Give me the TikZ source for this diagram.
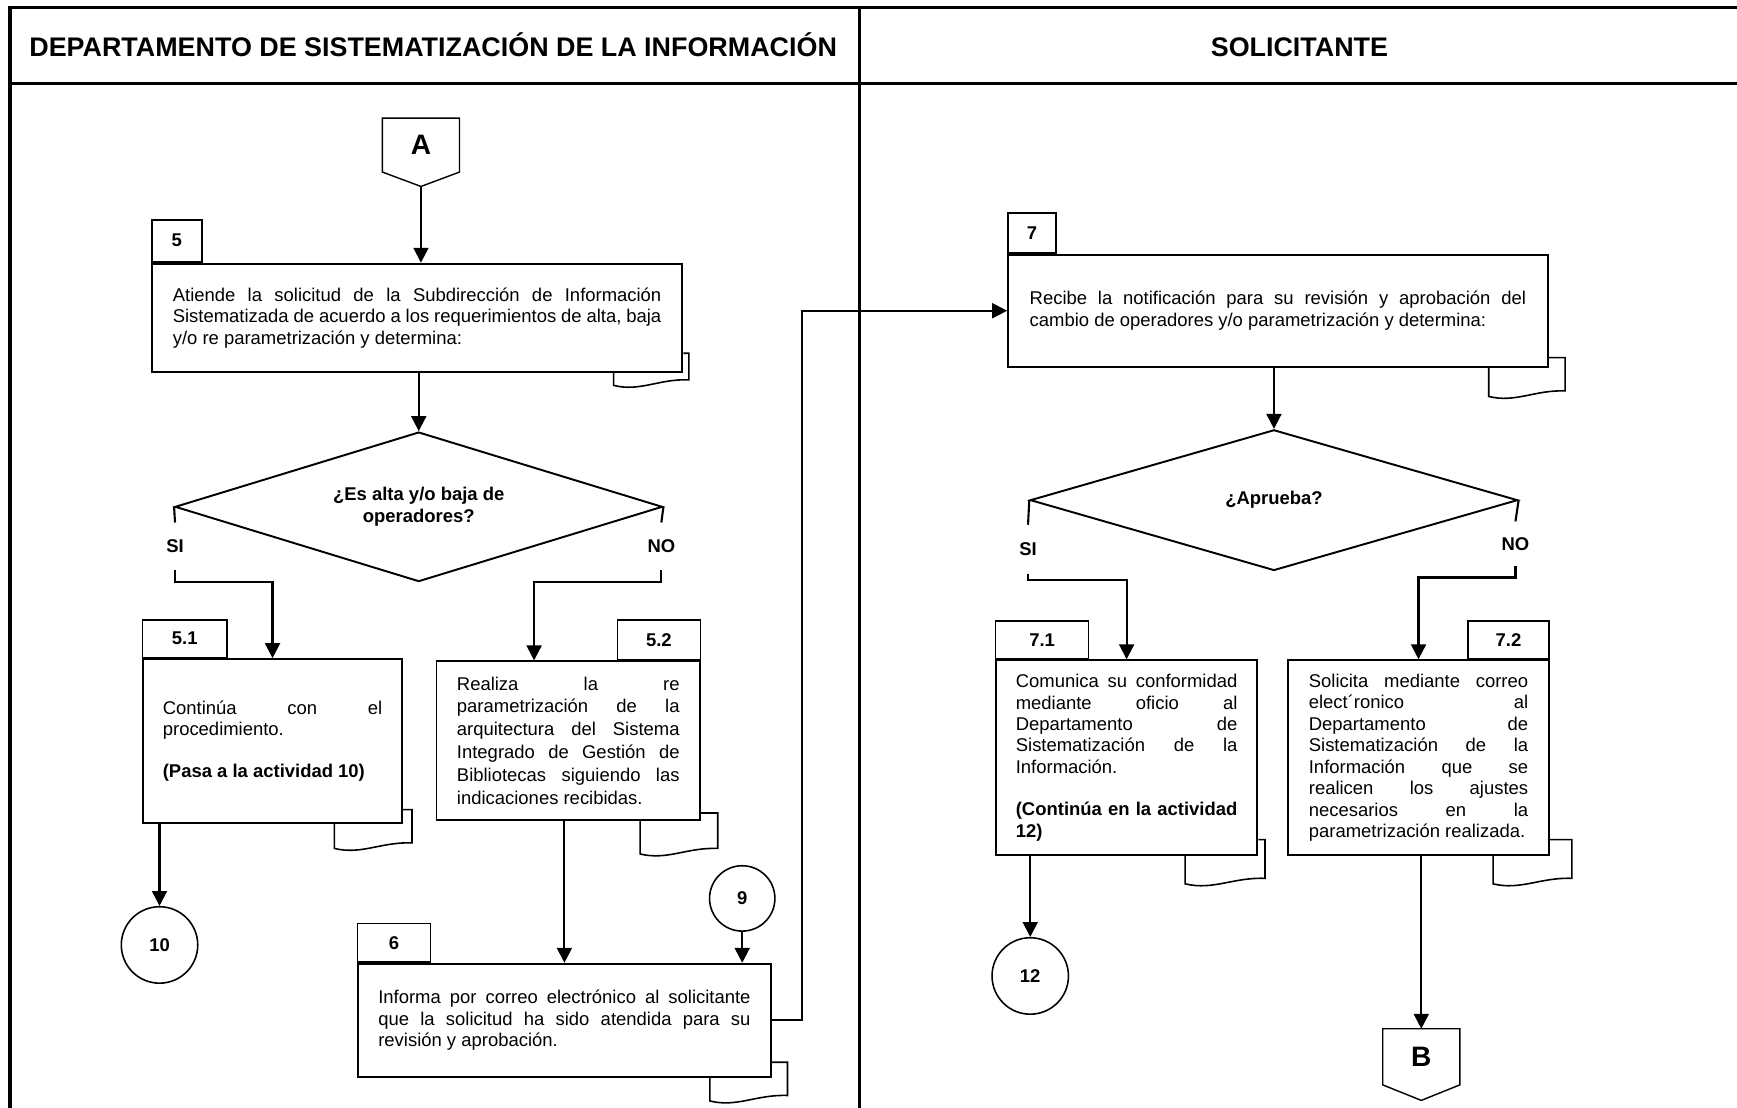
\documentclass[tikz,border=0pt]{standalone}
\usepackage{fontspec}
\setmainfont{Liberation Sans}
\usepackage{tikz}
\usetikzlibrary{calc,arrows.meta,positioning,shapes.geometric}
\newcommand{\pxu}{0.02215cm}
\newcommand{\actfont}{\fontsize{10.5}{12.2}\selectfont\hyphenpenalty=10000\exhyphenpenalty=10000}
\tikzset{
  actbox/.style ={rectangle, draw, fill=white, line width=1.1pt, inner sep=0pt,
                  align=justify, font=\actfont},
  numtab/.style ={rectangle, draw, fill=white, line width=0.8pt, inner sep=0pt,
                  font=\actfont\bfseries},
  decide/.style ={diamond, draw, line width=1.1pt, inner sep=0pt, aspect=3.2,
                  align=center, font=\actfont\bfseries},
  answer/.style ={inner sep=0pt, font=\actfont\bfseries},
  conn/.style   ={circle, draw, line width=0.9pt, inner sep=0pt, font=\actfont\bfseries},
  offpage/.style={rectangle, inner sep=0pt, minimum width=69*\pxu,
                  font=\fontsize{16}{19}\selectfont\bfseries},
  pentline/.style={line width=0.8pt},
  flow/.style    ={-{Triangle[length=8.5pt,width=8.5pt]}, line width=1.2pt},
  flowline/.style={line width=1.2pt},
  tailline/.style={line width=0.9pt},
  lanehead/.style={inner sep=0pt, font=\fontsize{15.3}{18}\selectfont\bfseries},
}
% folded sheet under a box: box, left, right, top, bottom
\newcommand{\doctail}[5]{%
  \draw[tailline] ($(#1.south east)+(-#2,0)$) -- ($(#1.south east)+(-#2,#5)$)
    .. controls ($(#1.south east)+(-#2+0.35*#2+0.35*#3,#5+6)$)
            and ($(#1.south east)+(#3-0.4*#2-0.4*#3,#5-6)$)
    .. ($(#1.south east)+(#3,#5-5)$)
    -- ($(#1.south east)+(#3,-#4)$) -- ($(#1.south east)+(0,-#4)$);}

\begin{document}
\begin{tikzpicture}[x=\pxu, y=-\pxu,
   lane/.style={line width=1.8pt}]
  \useasboundingbox (0,0) rectangle (1568,1000);

  % ---- lanes ---------------------------------------------------------------
  \draw[lane] (9,1000) -- (9,7) -- (1568,7);
  \draw[lane] (9,75) -- (1568,75);
  \draw[lane] (776,7) -- (776,1000);
  \node[lanehead, anchor=base] (h1) at (391,51)
    {DEPARTAMENTO DE SISTEMATIZACIÓN DE LA INFORMACIÓN};
  \node[lanehead, anchor=base] (h2) at (1173,51) {SOLICITANTE};

  % ---- departamento --------------------------------------------------------
  \node[offpage, minimum height=48*\pxu] (A) at (380,131) {A};
  \coordinate (Atip) at ($(A.south)+(0,13)$);
  \draw[pentline] (A.north west) -- (A.north east) -- (A.south east)
                  -- (Atip) -- (A.south west) -- cycle;

  \node[actbox, minimum width=479*\pxu, minimum height=98*\pxu,
        text width=441*\pxu] (b5) at (376.5,287)
    {Atiende la solicitud de la Subdirección de Información\linebreak
     Sistematizada de acuerdo a los requerimientos de alta, baja\linebreak
     y/o re parametrización y determina:};
  \node[numtab, line width=1.1pt, minimum width=45*\pxu, minimum height=38*\pxu,
        anchor=south west] (t5) at (b5.north west) {5};

  \node[decide, minimum width=440*\pxu, minimum height=135*\pxu] (d1) at (378,457.5)
    {¿Es alta y/o baja de\\operadores?};
  \node[answer, minimum height=42*\pxu] (si1) at (158,493) {SI};
  \node[answer, minimum height=42*\pxu] (no1) at (597,493) {NO};

  \node[actbox, minimum width=234*\pxu, minimum height=148*\pxu,
        text width=198*\pxu] (b51) at (246,669)
    {Continúa con el\linebreak procedimiento.\par\vspace{11.7pt}%
     \textbf{(Pasa a la actividad 10)}};
  \node[numtab, minimum width=76*\pxu, minimum height=34*\pxu,
        anchor=south west] (t51) at (b51.north west) {5.1};

  \node[actbox, minimum width=238*\pxu, minimum height=143*\pxu,
        text width=201*\pxu, font={\actfont\fontsize{10.5}{13}\selectfont}] (b52) at (513,668.5)
    {Realiza la re\linebreak parametrización de la\linebreak
     arquitectura del Sistema\linebreak Integrado de Gestión de\linebreak
     Bibliotecas siguiendo las\linebreak indicaciones recibidas.};
  \node[numtab, minimum width=75*\pxu, minimum height=36*\pxu,
        anchor=south east] (t52) at (b52.north east) {5.2};
  \coordinate (b52in) at ($(b52.north west)+(89,0)$);

  \node[conn, minimum size=69*\pxu] (c10) at (144,853) {10};
  \node[conn, minimum size=59*\pxu] (c9) at (670,811) {9};

  \node[actbox, minimum width=373*\pxu, minimum height=102*\pxu,
        text width=336*\pxu] (b6) at (509.5,921)
    {Informa por correo electrónico al solicitante\linebreak
     que la solicitud ha sido atendida para su\linebreak
     revisión y aprobación.};
  \node[numtab, minimum width=66*\pxu, minimum height=35*\pxu,
        anchor=south west] (t6) at (b6.north west) {6};

  % ---- solicitante ---------------------------------------------------------
  \node[actbox, minimum width=487*\pxu, minimum height=101*\pxu,
        text width=448*\pxu] (b7) at (1153.5,280.5)
    {Recibe la notificación para su revisión y aprobación del\linebreak
     cambio de operadores y/o parametrización y determina:};
  \node[numtab, line width=1.1pt, minimum width=43*\pxu, minimum height=36*\pxu,
        anchor=south west] (t7) at (b7.north west) {7};

  \node[decide, minimum width=440*\pxu, minimum height=127*\pxu] (d2) at (1150,451.5)
    {¿Aprueba?};
  \node[answer, minimum height=44*\pxu] (si2) at (928,496) {SI};
  \node[answer, minimum height=40*\pxu] (no2) at (1368,491) {NO};

  \node[actbox, minimum width=236*\pxu, minimum height=176*\pxu,
        text width=200*\pxu] (b71) at (1017,684)
    {Comunica su conformidad\linebreak mediante oficio al\linebreak
     Departamento de\linebreak Sistematización de la\linebreak
     Información.\par\vspace{12pt}%
     \textbf{(Continúa en la actividad\linebreak 12)}};
  \node[numtab, minimum width=84*\pxu, minimum height=34*\pxu,
        anchor=south west] (t71) at (b71.north west) {7.1};

  \node[actbox, minimum width=235*\pxu, minimum height=176*\pxu,
        text width=198*\pxu] (b72) at (1280.5,684)
    {Solicita mediante correo\linebreak elect´ronico al\linebreak
     Departamento de\linebreak Sistematización de la\linebreak
     Información que se\linebreak realicen los ajustes\linebreak
     necesarios en la\linebreak parametrización realizada.};
  \node[numtab, minimum width=73*\pxu, minimum height=34*\pxu,
        anchor=south east] (t72) at (b72.north east) {7.2};

  \node[conn, minimum size=69*\pxu] (c12) at (930,881) {12};

  \node[offpage, minimum height=50*\pxu] (B) at (1283,954) {B};
  \coordinate (Btip) at ($(B.south)+(0,14)$);
  \draw[pentline] (B.north west) -- (B.north east) -- (B.south east)
                  -- (Btip) -- (B.south west) -- cycle;

  % ---- folded sheets -------------------------------------------------------
  \doctail{b5}{63}{5}{18}{11}
  \doctail{b51}{62}{8}{13}{22}
  \doctail{b52}{55}{15}{7}{30}
  \doctail{b6}{56}{14}{14}{21}
  \doctail{b7}{54}{15}{9}{26}
  \doctail{b71}{66}{6}{15}{25}
  \doctail{b72}{51}{20}{15}{25}

  % ---- flow ----------------------------------------------------------------
  \draw[flow] (Atip) -- (Atip |- b5.north);
  \draw[flow] (d1.north |- b5.south) -- (d1.north);
  \draw[flowline] (d1.west) -- (si1.north);
  \draw[flow] (si1.south) -- ++(0,11) -| (b51.north);
  \draw[flowline] (d1.east) -- (no1.north);
  \draw[flow] (no1.south) -- ++(0,11) -| (b52in);
  \draw[flow] (c10.north |- b51.south) -- (c10.north);
  \draw[flow] (b6.north |- b52.south) -- (b6.north);
  \draw[flow] (c9.south) -- (c9.south |- b6.north);
  \draw[flow] (b6.east) -- ++(27,0) |- (b7.west);

  \draw[flow] (d2.north |- b7.south) -- (d2.north);
  \draw[flowline] (d2.west) -- (si2.north);
  \draw[flow] (si2.south) -- ++(0,5) -| (b71.north);
  \draw[flowline] (d2.east) -- (no2.north);
  \draw[flow] (no2.south) -- ++(0,10) -| (b72.north);
  \draw[flow] (c12.north |- b71.south) -- (c12.north);
  \draw[flow] (B.north |- b72.south) -- (B.north);
\end{tikzpicture}
\end{document}
